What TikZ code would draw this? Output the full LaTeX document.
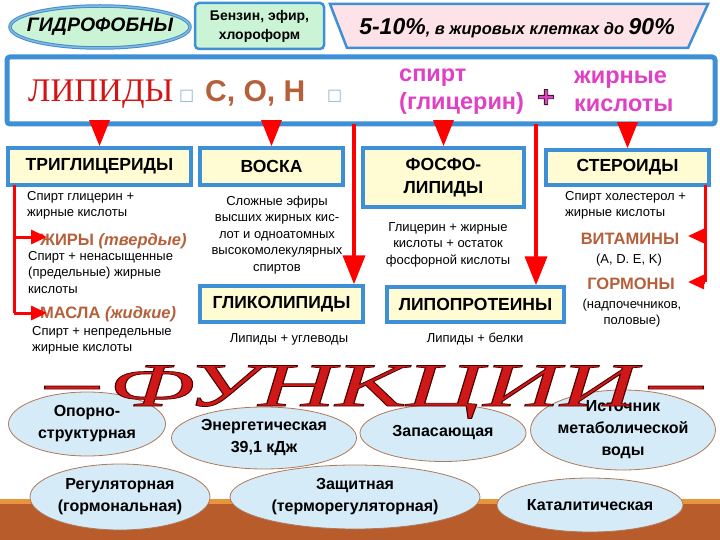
\documentclass[tikz,border=0pt]{standalone}
\usepackage{fontspec}
\setmainfont{Liberation Sans}
\newfontfamily\tnr{Liberation Serif}
\newfontfamily\dvs{DejaVu Sans}
\usetikzlibrary{shapes.geometric,arrows.meta}
\definecolor{boxblue}{HTML}{3D8FD6}
\definecolor{boxyellow}{HTML}{FFFBD2}
\definecolor{lightgreen}{HTML}{CBF4D6}
\definecolor{bannerpink}{HTML}{FDE3E8}
\definecolor{lipred}{HTML}{D41414}
\definecolor{txtbrown}{HTML}{B5603A}
\definecolor{magtxt}{HTML}{E040C4}
\definecolor{sqblue}{HTML}{8CB8D8}
\definecolor{ellblue}{HTML}{D5EBF8}
\definecolor{ellbrown}{HTML}{B07858}
\definecolor{bandbrown}{HTML}{B85C2C}
\definecolor{bandorange}{HTML}{E8963C}
\definecolor{funred}{HTML}{D01818}
\tikzset{
  titlebox/.style={draw=boxblue, line width=3.5pt, fill=boxyellow, align=center, inner sep=0pt,
    font=\bfseries\fontsize{17.5}{23}\selectfont},
  desc/.style={inner sep=0pt, font=\fontsize{13}{16.5}\selectfont},
  brownhead/.style={inner sep=0pt, text=txtbrown, font=\bfseries\fontsize{16.5}{19}\selectfont},
  func/.style={ellipse, draw=ellbrown, line width=0.8pt, fill=ellblue, inner sep=0pt, align=center,
    font=\bfseries\fontsize{16}{22}\selectfont},
  triarrow/.style={draw=red, line width=3pt, -{Triangle[width=20pt,length=26pt,fill=red]}},
  longarrow/.style={draw=red, line width=4pt, -{Triangle[width=22pt,length=29pt,fill=red]}},
  brkarrow/.style={draw=red, line width=3pt, -{Triangle[width=14pt,length=16pt,fill=red]}},
}
\begin{document}
\begin{tikzpicture}[x=1pt,y=-1pt]
\useasboundingbox (0,0) rectangle (720,540);
% bottom band
\fill[bandbrown] (0,503) rectangle (720,540);
\fill[bandorange] (0,499) rectangle (720,504);

% top row
\node[ellipse, draw=boxblue, line width=1pt, double=sqblue, double distance=1.5pt, fill=lightgreen,
  minimum width=180pt, minimum height=42pt, inner xsep=-10pt, inner ysep=0pt,
  font=\bfseries\itshape\fontsize{19.5}{19.5}\selectfont] (hydro) at (100,27) {ГИДРОФОБНЫ};
\node[draw=boxblue, line width=2.5pt, rounded corners=4pt, fill=lightgreen, minimum width=129pt,
  minimum height=46pt, inner sep=0pt, align=center, font=\bfseries\fontsize{14}{19}\selectfont]
  (benz) at (259.5,26) {Бензин, эфир,\\хлороформ};
\draw[draw=boxblue, line width=2.5pt, fill=bannerpink] (330,4) -- (708,4) -- (688,48) -- (347,48) -- cycle;
\node[anchor=base, inner sep=0pt, font=\bfseries\itshape] (pct) at (517,35)
  {{\fontsize{23}{23}\selectfont 5-10\%}{\fontsize{16.5}{16.5}\selectfont, в жировых клетках до }{\fontsize{23}{23}\selectfont 90\%}};

% main box
\node[draw=boxblue, line width=5pt, rounded corners=3pt, fill=white, minimum width=708pt,
  minimum height=67pt, inner sep=0pt] (main) at (361,90.5) {};
\node[anchor=base west, inner sep=0pt, text=lipred, font=\tnr\fontsize{33}{33}\selectfont] (lip) at (28,102) {ЛИПИДЫ};
\node[anchor=base west, inner sep=0pt, text=sqblue, font=\dvs\fontsize{16}{16}\selectfont] (sq1) at (179,101) {□};
\node[anchor=base west, inner sep=0pt, text=txtbrown, font=\bfseries\fontsize{30}{30}\selectfont] (coh) at (205,102) {С, О, Н};
\node[anchor=base west, inner sep=0pt, text=sqblue, font=\dvs\fontsize{16}{16}\selectfont] (sq2) at (327,101) {□};
\node[anchor=base west, inner sep=0pt, text=magtxt, font=\bfseries\fontsize{23.5}{23.5}\selectfont] (sp1) at (399,82) {спирт};
\node[anchor=base west, inner sep=0pt, text=magtxt, font=\bfseries\fontsize{23.5}{23.5}\selectfont] (sp2) at (399,110) {(глицерин)};
\node[anchor=base, inner sep=0pt, text=magtxt, font=\bfseries\fontsize{30}{30}\selectfont] (plus) at (546,107)
  {\special{pdf:literal direct 2 Tr 0.8 w 0.25 0.1 0.2 RG}+\special{pdf:literal direct 0 Tr}};
\node[anchor=base west, inner sep=0pt, text=magtxt, font=\bfseries\fontsize{23.5}{23.5}\selectfont] (zh1) at (574,84) {жирные};
\node[anchor=base west, inner sep=0pt, text=magtxt, font=\bfseries\fontsize{23.5}{23.5}\selectfont] (zh2) at (574,112) {кислоты};

% category boxes
\node[titlebox, minimum width=183pt, minimum height=37pt] (tri) at (99.5,166.5) {ТРИГЛИЦЕРИДЫ};
\node[titlebox, minimum width=143pt, minimum height=37pt] (wax) at (271.5,166.5) {ВОСКА};
\node[titlebox, minimum width=161pt, minimum height=59pt] (phos) at (443.5,177.5) {ФОСФО-\\ЛИПИДЫ};
\node[titlebox, minimum width=163pt, minimum height=35pt] (ster) at (627.5,167.5) {СТЕРОИДЫ};
\node[titlebox, minimum width=163pt, minimum height=36pt] (glyco) at (281.5,304) {ГЛИКОЛИПИДЫ};
\node[titlebox, minimum width=177pt, minimum height=35pt] (lipo) at (475.5,304.5) {ЛИПОПРОТЕИНЫ};

% arrows from main box
\draw[triarrow] (tri.north |- main.south) -- (tri.north);
\draw[triarrow] (wax.north |- main.south) -- (wax.north);
\draw[triarrow] (phos.north |- main.south) -- (phos.north);
\draw[triarrow] (ster.north |- main.south) -- (ster.north);
\coordinate (v1) at (354,124);
\coordinate (v2) at (536,124);
\draw[longarrow] (v1) -- (v1 |- glyco.north);
\draw[longarrow] (v2) -- (v2 |- lipo.north);

% triglycerides texts
\node[desc, anchor=base west, align=left] (d1) at (27,216.5) {Спирт глицерин +\\жирные кислоты};
\node[brownhead, anchor=base west] (zhiry) at (40,245) {ЖИРЫ \textit{(твердые)}};
\node[desc, anchor=base west, align=left] (d2) at (28,293) {Спирт + ненасыщенные\\(предельные) жирные\\кислоты};
\node[brownhead, anchor=base west] (masla) at (40,318) {МАСЛА \textit{(жидкие)}};
\node[desc, anchor=base west, align=left] (d3) at (32,351.5) {Спирт + непредельные\\жирные кислоты};
\coordinate (b0) at (14,185);
\coordinate (b1) at (14,237);
\coordinate (b2) at (14,313);
\coordinate (t1) at (47,237);
\coordinate (t2) at (47,313);
\draw[red, line width=3pt] (b0) -- (b2);
\draw[brkarrow] (b1) -- (t1);
\draw[brkarrow] (b2) -- (t2);

% wax / phospho / glyco / lipo texts
\node[desc, anchor=base, align=center] (dw) at (277,271) {Сложные эфиры\\высших жирных кис-\\лот и одноатомных\\высокомолекулярных\\спиртов};
\node[desc, anchor=base, align=center] (dp) at (448,264) {Глицерин + жирные\\кислоты + остаток\\фосфорной кислоты};
\node[desc, anchor=base] (dg) at (289,342) {Липиды + углеводы};
\node[desc, anchor=base] (dl) at (475,342) {Липиды + белки};

% steroids
\node[desc, anchor=base west, align=left] (ds) at (565,216.5) {Спирт холестерол +\\жирные кислоты};
\node[brownhead, anchor=base] (vit) at (630,244) {ВИТАМИНЫ};
\node[desc, anchor=base] (vitl) at (629,263) {(A, D. E, K)};
\node[brownhead, anchor=base] (horm) at (631,289) {ГОРМОНЫ};
\node[desc, anchor=base, align=center] (horml) at (632,324.5) {(надпочечников,\\половые)};
\coordinate (s0) at (705,185);
\coordinate (s1) at (705,236);
\coordinate (s2) at (705,282);
\coordinate (u1) at (688,236);
\coordinate (u2) at (688,282);
\draw[red, line width=3pt] (s0) -- (s2);
\draw[brkarrow] (s1) -- (u1);
\draw[brkarrow] (s2) -- (u2);

% function ellipses
\node[func, minimum width=157pt, minimum height=64pt] (op) at (87,424) {Опорно-\\структурная};
\node[func, minimum width=185pt, minimum height=62pt] (en) at (264,438) {Энергетическая\\39,1 кДж};
\node[func, minimum width=166pt, minimum height=57pt] (zap) at (443,433) {Запасающая};
\node[func, minimum width=176pt, minimum height=80pt, inner ysep=-4pt] (ist) at (623,430) {Источник\\метаболической\\воды};
\node[func, minimum width=180pt, minimum height=66pt] (reg) at (120,497) {Регуляторная\\(гормональная)};
\node[func, minimum width=250pt, minimum height=64pt] (zash) at (355,497) {Защитная\\(терморегуляторная)};
\node[func, minimum width=186pt, minimum height=54pt] (kat) at (590,505) {Каталитическая};

% functions title
\node[anchor=base, inner sep=0pt, text=funred, xscale=1.72, font=\tnr\itshape\fontsize{62}{62}\selectfont] (fun) at (374,406)
  {\special{pdf:literal direct 2 Tr 0.7 w 0.3 0 0 RG}\raisebox{4pt}{–}\kern6pt ФУНКЦИИ\kern7pt\raisebox{4pt}{–}\special{pdf:literal direct 0 Tr}};
\end{tikzpicture}
\end{document}
